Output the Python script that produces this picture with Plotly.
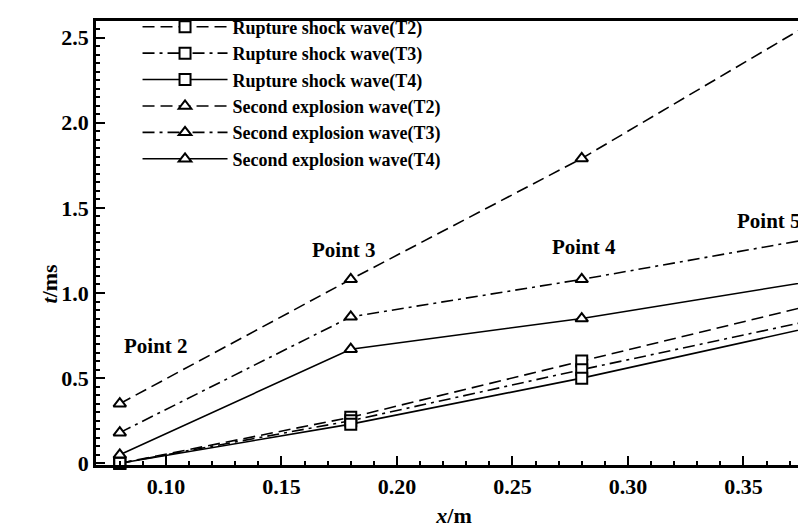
import plotly.graph_objects as go

x_pos = [0.08, 0.18, 0.28, 0.38]

rupture_T2 = [0.0, 0.27, 0.60, 0.93]
rupture_T3 = [0.0, 0.25, 0.55, 0.84]
rupture_T4 = [0.0, 0.23, 0.50, 0.80]
second_T2 = [0.35, 1.08, 1.79, 2.59]
second_T3 = [0.18, 0.86, 1.08, 1.32]
second_T4 = [0.05, 0.67, 0.85, 1.07]

series_names = [
    "Rupture shock wave(T2)",
    "Rupture shock wave(T3)",
    "Rupture shock wave(T4)",
    "Second explosion wave(T2)",
    "Second explosion wave(T3)",
    "Second explosion wave(T4)",
]

point_labels = ["Point 2", "Point 3", "Point 4", "Point 5"]
point_label_x = [0.0956, 0.177, 0.281, 0.361]
point_label_y = [0.69, 1.25, 1.27, 1.42]

x_tickvals = [0.10, 0.15, 0.20, 0.25, 0.30, 0.35]
x_ticktext = ["0.10", "0.15", "0.20", "0.25", "0.30", "0.35"]
y_tickvals = [0, 0.5, 1.0, 1.5, 2.0, 2.5]
y_ticktext = ["0", "0.5", "1.0", "1.5", "2.0", "2.5"]

FONT = "Liberation Serif"

dash_T2 = "12px,6px"
dash_T3 = "12px,5px,3px,5px"
dash_T4 = "solid"

fig = go.Figure()
data = [
    (rupture_T2, "square", dash_T2),
    (rupture_T3, "square", dash_T3),
    (rupture_T4, "square", dash_T4),
    (second_T2, "triangle-up", dash_T2),
    (second_T3, "triangle-up", dash_T3),
    (second_T4, "triangle-up", dash_T4),
]
for name, (vals, sym, dash) in zip(series_names, data):
    fig.add_trace(go.Scatter(
        x=x_pos, y=vals, name=name, mode="lines+markers",
        line=dict(color="black", width=1.6, dash=dash),
        marker=dict(symbol=sym, size=11, color="white",
                    line=dict(color="black", width=2)),
        cliponaxis=False,
    ))

for txt, px, py in zip(point_labels, point_label_x, point_label_y):
    fig.add_annotation(x=px, y=py, text="<b>" + txt + "</b>", showarrow=False,
                       font=dict(family=FONT, size=21, color="black"))

# y-axis title
fig.add_annotation(xref="paper", yref="paper", x=-0.0852, y=0.41,
                   text="<b><i>t</i>/ms</b>", textangle=-90, showarrow=False,
                   font=dict(family=FONT, size=22, color="black"))

axis_common = dict(
    showline=True, linecolor="black", linewidth=2.5, mirror=True,
    ticks="inside", tickcolor="black", tickwidth=2, ticklen=9,
    showgrid=False, zeroline=False, automargin=False,
    tickfont=dict(family=FONT, size=22, color="black", weight="bold"),
)

fig.update_xaxes(
    range=[0.0697, 0.3797], tickvals=x_tickvals, ticktext=x_ticktext,
    minor=dict(ticks="inside", dtick=0.01, tick0=0.0, ticklen=4,
               tickcolor="black", tickwidth=1.5),
    title=dict(text="<b><i>x</i>/m</b>", font=dict(family=FONT, size=22, color="black"),
               standoff=10),
    **axis_common,
)
fig.update_yaxes(
    range=[-0.01, 2.597], tickvals=y_tickvals, ticktext=y_ticktext,
    minor=dict(ticks="inside", dtick=0.05, tick0=0.0, ticklen=4,
               tickcolor="black", tickwidth=1.5),
    **axis_common,
)

fig.update_layout(
    width=806, height=527,
    margin=dict(l=88, r=2, t=13, b=70, autoexpand=False),
    paper_bgcolor="white", plot_bgcolor="white",
    showlegend=True,
    legend=dict(x=0.058, y=1.028, xanchor="left", yanchor="top",
                bgcolor="rgba(0,0,0,0)", borderwidth=0,
                font=dict(family=FONT, size=18, color="black", weight="bold"),
                tracegroupgap=0, itemwidth=85),
)

fig.write_html("out.html")
